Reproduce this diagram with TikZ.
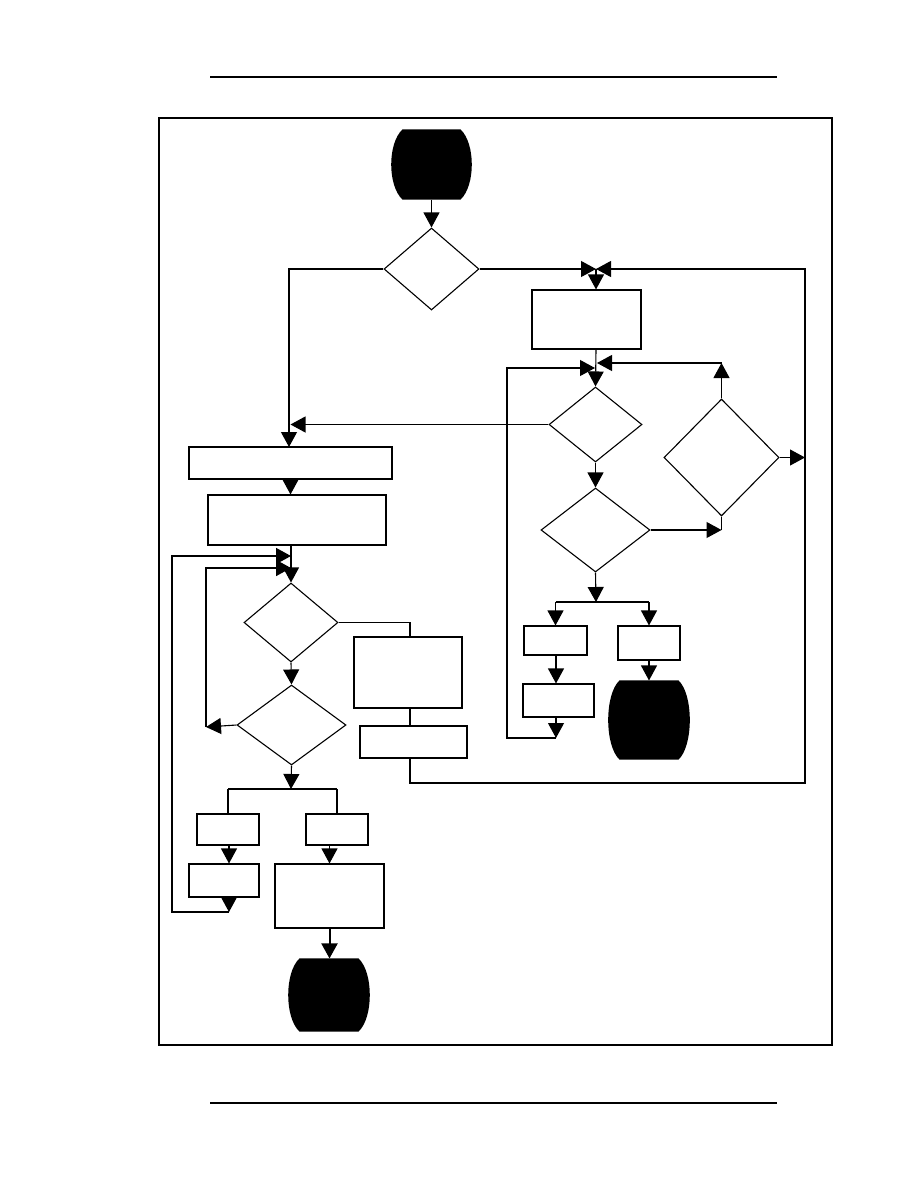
\documentclass[tikz,border=0pt]{standalone}
\usetikzlibrary{arrows.meta,shapes.geometric,calc}
\newcommand{\barrelfill}[1]{%
\fill ($(#1.north west)+(11,0)$) -- ($(#1.north east)+(-11,0)$)
 .. controls ($(#1.north east)+(4,14)$) and ($(#1.south east)+(4,-14)$) .. ($(#1.south east)+(-11,0)$)
 -- ($(#1.south west)+(11,0)$)
 .. controls ($(#1.south west)+(-4,-14)$) and ($(#1.north west)+(-4,14)$) .. cycle;}
\begin{document}
\begin{tikzpicture}[x=1pt,y=-1pt,
  line width=1.1pt,
  boxn/.style={draw,rectangle,inner sep=0pt,line width=1.1pt},
  dia/.style={draw,diamond,inner sep=0pt,line width=1.1pt},
  term/.style={rectangle,inner sep=0pt,draw=none},
  arr/.style={-{Triangle[width=16pt,length=15pt]}},
  ln/.style={-}]
\useasboundingbox (0,0) rectangle (918,1188);
% page furniture
\draw[line width=1.4pt] (210,77) -- (777,77);
\draw[line width=1.6pt] (210,1103) -- (777,1103);
\draw[line width=2.4pt] (159,118) rectangle (832,1045);

% terminators
\node[term,minimum width=79pt,minimum height=69pt] (t1) at (431.5,164.5) {};
\node[term,minimum width=80pt,minimum height=78pt] (t2) at (649,720) {};
\node[term,minimum width=80pt,minimum height=72pt] (t3) at (329,995) {};
\barrelfill{t1}
\barrelfill{t2}
\barrelfill{t3}

% diamonds
\node[dia,minimum width=95pt,minimum height=82pt] (d1) at (431.5,269) {};
\node[dia,minimum width=93pt,minimum height=75pt] (d2) at (595.5,424.5) {};
\node[dia,minimum width=109pt,minimum height=84pt] (d3) at (595.5,530) {};
\node[dia,minimum width=115pt,minimum height=117pt] (d4) at (721.5,457.5) {};
\node[dia,minimum width=94pt,minimum height=79pt] (d5) at (291,622.5) {};
\node[dia,minimum width=109pt,minimum height=80pt] (d6) at (291.5,725) {};

% boxes
\node[boxn,minimum width=109pt,minimum height=59pt] (A) at (586.5,319.5) {};
\node[boxn,minimum width=63pt,minimum height=29pt] (B) at (555.5,640.5) {};
\node[boxn,minimum width=62pt,minimum height=34pt] (C) at (649,643) {};
\node[boxn,minimum width=71pt,minimum height=33pt] (D) at (558.5,700.5) {};
\node[boxn,minimum width=203pt,minimum height=32pt] (b1) at (290.5,463) {};
\node[boxn,minimum width=178pt,minimum height=50pt] (b2) at (297,520) {};
\node[boxn,minimum width=108pt,minimum height=71pt] (E) at (408,672.5) {};
\node[boxn,minimum width=107pt,minimum height=32pt] (F) at (413.5,742) {};
\node[boxn,minimum width=62pt,minimum height=31pt] (G) at (228,829.5) {};
\node[boxn,minimum width=62pt,minimum height=31pt] (H) at (337,829.5) {};
\node[boxn,minimum width=70pt,minimum height=33pt] (I) at (224,880.5) {};
\node[boxn,minimum width=109pt,minimum height=64pt] (J) at (329.5,896) {};

% junction coordinates
\coordinate (jA) at (596,269);
\coordinate (rt) at (805,269);
\coordinate (rb) at (805,783);
\coordinate (jBl) at (595,368);
\coordinate (jBr) at (597,363);
\coordinate (lb) at (507,738);
\coordinate (lt) at (507,368);
\coordinate (dn) at (556,738);
\coordinate (u4) at (721.5,363);
\coordinate (sR) at (596,602);
\coordinate (eF) at (410,783);
\coordinate (lA) at (206,727);
\coordinate (lAt) at (206,568);
\coordinate (lAe) at (291,568);
\coordinate (lBt) at (172,556);
\coordinate (lBe) at (291,556);
\coordinate (lBb) at (172,912);
\coordinate (dI) at (229,912);
\coordinate (sL) at (291,789);

% top
\draw[arr] (t1.south) -- (d1.north);
\draw[arr] (d1.west) -- (289,269) -- (289,447);
\draw[arr] (d1.east) -- (jA);
\draw[arr] (jA) -- (jA |- A.north);
\draw[arr] (jA |- A.south) -- (d2.north);
\draw[arr] (F.south -| eF) -- (eF) -- (rb) -- (rt) -- (jA);

% right column
\draw[arr] (d2.west) -- (b1.north |- d2.west);
\draw[arr] (d2.south) -- (d3.north);
\draw[arr] (d3.east) -- (d4.south |- d3.east);
\draw[ln] (d4.south |- d3.east) -- (d4.south);
\draw[arr] (d4.east) -- (rt |- d4.east);
\draw[arr] (d4.north) -- (u4);
\draw[arr] (u4) -- (jBr);
\draw[arr] (d3.south) -- (sR);
\draw[ln] (B.north |- sR) -- (C.north |- sR);
\draw[arr] (B.north |- sR) -- (B.north);
\draw[arr] (C.north |- sR) -- (C.north);
\draw[arr] (dn |- B.south) -- (dn |- D.north);
\draw[arr] (dn |- D.south) -- (dn);
\draw[arr] (dn) -- (lb) -- (lt) -- (jBl);
\draw[arr] (C.south) -- (t2.north);

% left column
\draw[arr] (b1.south) -- (b1.south |- b2.north);
\draw[arr] (d5.north |- b2.south) -- (d5.north);
\draw[ln] (d5.east) -- (410,622.5) -- (410,637);
\draw[ln] (410,708) -- (410,726);
\draw[arr] (d5.south) -- (d6.north);
\draw[arr] (d6.west) -- (lA);
\draw[arr,line width=1.6pt] (lA) -- (lAt) -- (lAe);
\draw[arr] (d6.south) -- (sL);
\draw[ln] (G.north |- sL) -- (H.north |- sL);
\draw[ln] (G.north |- sL) -- (G.north);
\draw[ln] (H.north |- sL) -- (H.north);
\draw[arr] (dI |- G.south) -- (dI |- I.north);
\draw[arr] (dI |- I.south) -- (dI);
\draw[arr,line width=1.6pt] (dI) -- (lBb) -- (lBt) -- (lBe);
\draw[arr] (J.north |- H.south) -- (J.north);
\draw[arr,line width=2pt] (J.south) -- (J.south |- t3.north);
\end{tikzpicture}
\end{document}
